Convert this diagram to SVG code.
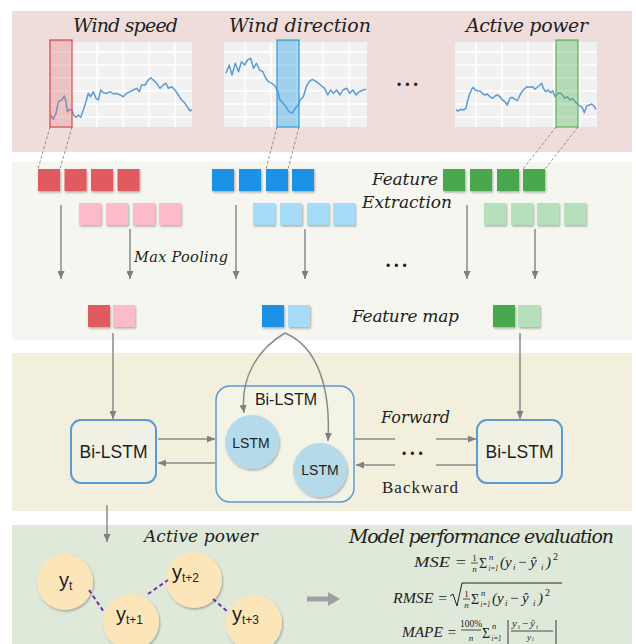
<svg xmlns="http://www.w3.org/2000/svg" width="636" height="644" viewBox="0 0 636 644">
<defs>
<style>
.ttl{font-family:"DejaVu Serif","Liberation Serif",serif;font-style:italic;fill:#1e1e1e}
.sans{font-family:"Liberation Sans",Arial,sans-serif;fill:#1e1e1e}
.m{font-family:"Liberation Serif","DejaVu Serif",serif;font-style:italic;fill:#222}
.mu{font-family:"Liberation Serif","DejaVu Serif",serif;fill:#222}
.dots{font-family:"Liberation Sans",Arial,sans-serif;font-size:12px;letter-spacing:4px;fill:#222}
.chartbg{fill:#f1f1f1}
.grid{stroke:#ffffff;stroke-width:1.5}
.series{fill:none;stroke:#5b9bd5;stroke-width:1.5;stroke-linejoin:round}
.arr{stroke:#8a8a8a;stroke-width:1.5;fill:none}
.dash{stroke:#777;stroke-width:0.8;stroke-dasharray:3,2;fill:none}
.pur{stroke:#7030a0;stroke-width:2;stroke-dasharray:4,3;fill:none}
.box{fill:#f0f1e4;stroke:#5b9bd5;stroke-width:2}
.lstm{fill:#b5daea}
.yc{fill:#fce6b9}
</style>
<filter id="sh" x="-30%" y="-30%" width="160%" height="160%">
<feDropShadow dx="1" dy="1.5" stdDeviation="1" flood-color="#000" flood-opacity="0.3"/>
</filter>
<marker id="ah" markerUnits="userSpaceOnUse" markerWidth="8" markerHeight="7" refX="8" refY="3.5" orient="auto">
<path d="M0,0 L8,3.5 L0,7 z" fill="#808080"/>
</marker>
</defs>

<!-- bands -->
<rect x="12" y="11" width="620" height="141" fill="#efdddb"/>
<rect x="12" y="162" width="620" height="178" fill="#f4f6ef"/>
<rect x="12" y="353" width="620" height="158" fill="#f2f0dc"/>
<rect x="12" y="525" width="620" height="119" fill="#dfe9d9"/>

<!-- charts -->
<g id="chart-wind-speed">
<text class="ttl" x="73" y="32" font-size="19" textLength="105">Wind speed</text>
<rect class="chartbg" x="50" y="42" width="142" height="85"/>
<g class="grid"><line x1="50" y1="52" x2="192" y2="52"/><line x1="50" y1="65" x2="192" y2="65"/><line x1="50" y1="78" x2="192" y2="78"/><line x1="50" y1="91" x2="192" y2="91"/><line x1="50" y1="104" x2="192" y2="104"/><line x1="50" y1="117" x2="192" y2="117"/><line x1="71" y1="42" x2="71" y2="127"/><line x1="97" y1="42" x2="97" y2="127"/><line x1="123" y1="42" x2="123" y2="127"/><line x1="149" y1="42" x2="149" y2="127"/><line x1="175" y1="42" x2="175" y2="127"/></g>
<polyline class="series" points="50.7,115 53.3,119.3 56,113.3 58.3,101.7 61.7,100 64.3,96 66,101.7 67.3,111.7 69.3,109.3 72,110.7 74.3,116 76,117.3 78.3,115 80.7,117.3 83.3,110 86,101.7 88.3,93.3 90.7,96.7 93.3,91.7 96,98.3 98.3,100 100.7,90 103.3,92.7 106.7,93.3 110,91.7 113.3,94 116.7,93.3 120,95 123.3,96.7 126.7,93.3 130,91.7 133.3,90 136.7,88.3 139.3,91.7 141.7,85 145,85 148.3,80 150.7,77.7 153.3,80 156.7,83.3 160,88.3 163.3,85 166,83.3 168.3,88.3 171.7,86.7 175,90 178.3,95 181.7,100 185,103.3 188.3,108.3 190,110.7 192,110"/>
<rect x="50" y="40" width="22" height="87" fill="#e06b6b" fill-opacity="0.35" stroke="#d9454a" stroke-width="1.2"/>
</g>

<g id="chart-wind-direction">
<text class="ttl" x="229" y="32" font-size="19" textLength="142">Wind direction</text>
<rect class="chartbg" x="224" y="42" width="143" height="85"/>
<g class="grid"><line x1="224" y1="52" x2="367" y2="52"/><line x1="224" y1="65" x2="367" y2="65"/><line x1="224" y1="78" x2="367" y2="78"/><line x1="224" y1="91" x2="367" y2="91"/><line x1="224" y1="104" x2="367" y2="104"/><line x1="224" y1="117" x2="367" y2="117"/><line x1="245" y1="42" x2="245" y2="127"/><line x1="271" y1="42" x2="271" y2="127"/><line x1="297" y1="42" x2="297" y2="127"/><line x1="323" y1="42" x2="323" y2="127"/><line x1="349" y1="42" x2="349" y2="127"/></g>
<polyline class="series" points="226,73.3 229.2,65 232,75 235.3,63.3 238.5,71.7 241.4,61.7 244.6,65 247.5,60 250.7,58.3 253.5,68.3 256.4,63.3 259.6,70 262.9,71.7 265.7,78.3 268.6,81.7 271.8,83.3 275,86 277.9,91.7 279.9,100 283.2,103.3 286,106.7 288.8,111.7 292.1,113.3 295.3,108.3 298.2,105 300.2,100 303.4,96.7 306.3,86.7 309.1,81.7 312.4,79.3 316.4,81.7 320.5,85 324.5,88.3 327.8,95 330.6,90 333.5,93.3 336.7,90 340,95 342.8,90 346.9,88.3 349.7,93.3 352.9,90 356.2,95 359,91.7 363.1,90 366.3,89.3"/>
<rect x="277" y="40" width="22" height="87" fill="#2aa0e8" fill-opacity="0.4" stroke="#2a9fd8" stroke-width="1.2"/>
</g>

<text class="dots" x="397" y="89">•••</text>

<g id="chart-active-power">
<text class="ttl" x="466" y="32" font-size="19" textLength="122">Active power</text>
<rect class="chartbg" x="455" y="42" width="142" height="85"/>
<g class="grid"><line x1="455" y1="52" x2="597" y2="52"/><line x1="455" y1="65" x2="597" y2="65"/><line x1="455" y1="78" x2="597" y2="78"/><line x1="455" y1="91" x2="597" y2="91"/><line x1="455" y1="104" x2="597" y2="104"/><line x1="455" y1="117" x2="597" y2="117"/><line x1="476" y1="42" x2="476" y2="127"/><line x1="502" y1="42" x2="502" y2="127"/><line x1="528" y1="42" x2="528" y2="127"/><line x1="554" y1="42" x2="554" y2="127"/><line x1="580" y1="42" x2="580" y2="127"/></g>
<polyline class="series" points="456,110 458.3,111 460.7,109.3 463.3,110 466,108.3 467.3,101.7 469.3,95 471.7,89.3 473.3,87.3 475,90 477.3,90.7 480,91 482.3,93.3 485,95 487.3,94 490,96.7 492.7,98.3 495,96 497.3,95 500,96.7 502.3,100 505,101.7 507.3,105 510,98.3 512.3,97.3 515,99.3 517.3,100.7 520,95 522.7,90.7 525,88.3 527.3,86.7 530,87.3 532.7,86.7 535,89.3 537.3,87.3 540,85 541.7,83.3 543.3,88.3 545.7,91.7 548.3,90 550.7,92.7 552.7,90.7 555,96.7 557.3,94 560,92.7 562.3,95 565,98.3 567.3,96.7 570,100 572.7,98.3 575,101.7 577.3,104 580,106 582.3,107.3 584.3,112.7 586.7,106 589.3,105 591.7,104 594,106 596,109.3"/>
<rect x="556" y="40" width="22" height="87" fill="#5cb85c" fill-opacity="0.4" stroke="#5cb25c" stroke-width="1.2"/>
</g>

<!-- feature extraction -->
<g id="red-features" filter="url(#sh)">
<rect x="38" y="169" width="22" height="22" fill="#e05a5f"/><rect x="64.5" y="169" width="22" height="22" fill="#e05a5f"/><rect x="91" y="169" width="22" height="22" fill="#e05a5f"/><rect x="117.5" y="169" width="22" height="22" fill="#e05a5f"/>
<rect x="79" y="203" width="22" height="22" fill="#fbbcc7"/><rect x="106" y="203" width="22" height="22" fill="#fbbcc7"/><rect x="133" y="203" width="22" height="22" fill="#fbbcc7"/><rect x="159" y="203" width="22" height="22" fill="#fbbcc7"/>
</g>
<g id="blue-features" filter="url(#sh)">
<rect x="212" y="169" width="22" height="22" fill="#1a92e6"/><rect x="239" y="169" width="22" height="22" fill="#1a92e6"/><rect x="266" y="169" width="22" height="22" fill="#1a92e6"/><rect x="292" y="169" width="22" height="22" fill="#1a92e6"/>
<rect x="253" y="203" width="22" height="22" fill="#a6dcf7"/><rect x="280" y="203" width="22" height="22" fill="#a6dcf7"/><rect x="307" y="203" width="22" height="22" fill="#a6dcf7"/><rect x="333" y="203" width="22" height="22" fill="#a6dcf7"/>
</g>
<g id="green-features" filter="url(#sh)">
<rect x="443" y="169" width="22" height="22" fill="#4aa84e"/><rect x="470" y="169" width="22" height="22" fill="#4aa84e"/><rect x="497" y="169" width="22" height="22" fill="#4aa84e"/><rect x="523" y="169" width="22" height="22" fill="#4aa84e"/>
<rect x="484" y="203" width="22" height="22" fill="#b6e0bb"/><rect x="511" y="203" width="22" height="22" fill="#b6e0bb"/><rect x="537" y="203" width="22" height="22" fill="#b6e0bb"/><rect x="564" y="203" width="22" height="22" fill="#b6e0bb"/>
</g>
<g id="label-feature-extraction">
<text class="ttl" x="372" y="185" font-size="17" textLength="66">Feature</text>
<text class="ttl" x="362" y="208" font-size="17" textLength="90">Extraction</text>
</g>
<text class="ttl" x="134" y="262" font-size="14.5" textLength="94">Max Pooling</text>
<text class="dots" x="386" y="270">•••</text>

<!-- feature maps -->
<g id="red-feature-map" filter="url(#sh)"><rect x="88" y="305" width="22" height="22" fill="#e05a5f"/><rect x="113" y="305" width="22" height="22" fill="#fbbcc7"/></g>
<g id="blue-feature-map" filter="url(#sh)"><rect x="262" y="305" width="22" height="22" fill="#1a92e6"/><rect x="288" y="305" width="22" height="22" fill="#a6dcf7"/></g>
<g id="green-feature-map" filter="url(#sh)"><rect x="493" y="305" width="22" height="22" fill="#4aa84e"/><rect x="518" y="305" width="22" height="22" fill="#b6e0bb"/></g>
<text class="ttl" x="352" y="322" font-size="17" textLength="107">Feature map</text>

<!-- Bi-LSTM layer -->
<g id="bilstm-left">
<rect class="box" x="71" y="420" width="85" height="63" rx="10"/>
<text class="sans" x="113.5" y="458" font-size="17.5" text-anchor="middle">Bi-LSTM</text>
</g>
<g id="bilstm-middle">
<rect x="216" y="386" width="138" height="116" rx="14" fill="#f3f3e6" stroke="#5b9bd5" stroke-width="1.5"/>
<text class="sans" x="286" y="405" font-size="16" text-anchor="middle">Bi-LSTM</text>
</g>
<g id="lstm-1">
<circle class="lstm" cx="252" cy="442" r="27" filter="url(#sh)"/>
<text class="sans" x="251" y="448" font-size="14" text-anchor="middle">LSTM</text>
</g>
<g id="lstm-2">
<circle class="lstm" cx="320" cy="470" r="27" filter="url(#sh)"/>
<text class="sans" x="320" y="475" font-size="14" text-anchor="middle">LSTM</text>
</g>
<g id="bilstm-right">
<rect class="box" x="477" y="420" width="85" height="63" rx="10"/>
<text class="sans" x="519.5" y="458" font-size="17.5" text-anchor="middle">Bi-LSTM</text>
</g>
<text class="ttl" x="381" y="423" font-size="16" textLength="69">Forward</text>
<text class="mu" x="382" y="493" font-size="17" textLength="76">Backward</text>
<text class="dots" x="402" y="458">•••</text>

<!-- output -->
<text class="ttl" x="144" y="542" font-size="17" textLength="114">Active power</text>
<g id="y-t"><circle class="yc" cx="65" cy="582" r="28" filter="url(#sh)"/><text class="sans" x="59" y="587" font-size="20">y<tspan font-size="12" dy="3">t</tspan></text></g>
<g id="y-t1"><circle class="yc" cx="131" cy="622" r="28" filter="url(#sh)"/><text class="sans" x="116" y="621" font-size="20">y<tspan font-size="12" dy="3">t+1</tspan></text></g>
<g id="y-t2"><circle class="yc" cx="194" cy="580" r="28" filter="url(#sh)"/><text class="sans" x="172" y="579" font-size="20">y<tspan font-size="12" dy="3">t+2</tspan></text></g>
<g id="y-t3"><circle class="yc" cx="254" cy="623" r="28" filter="url(#sh)"/><text class="sans" x="232" y="621" font-size="20">y<tspan font-size="12" dy="3">t+3</tspan></text></g>

<g id="evaluation">
<text class="ttl" x="349" y="543" font-size="19" textLength="265">Model performance evaluation</text>
<!-- MSE -->
<text class="m" x="414" y="567" font-size="15" textLength="53" lengthAdjust="spacingAndGlyphs">MSE =</text>
<text class="mu" x="474.5" y="561" font-size="9" text-anchor="middle">1</text>
<line x1="471" y1="563" x2="478" y2="563" stroke="#222" stroke-width="0.8"/>
<text class="m" x="474.5" y="572" font-size="9" text-anchor="middle">n</text>
<text class="mu" x="479" y="568" font-size="14">Σ</text>
<text class="m" x="489" y="560" font-size="8.5">n</text>
<text class="m" x="488.5" y="571" font-size="8.5" textLength="10" lengthAdjust="spacingAndGlyphs">i=1</text>
<text class="m" x="500" y="567" font-size="15">(y</text>
<text class="m" x="513" y="570" font-size="9">i</text>
<text class="mu" x="518" y="567" font-size="15">−</text>
<text class="m" x="530" y="567" font-size="15">ŷ</text>
<text class="m" x="541" y="570" font-size="9">i</text>
<text class="m" x="546" y="567" font-size="15">)</text>
<text class="mu" x="553" y="560" font-size="10">2</text>
<!-- RMSE -->
<text class="m" x="393" y="603" font-size="15" textLength="55" lengthAdjust="spacingAndGlyphs">RMSE =</text>
<polyline points="450,596 453,594 457,606 462,583 562,583" fill="none" stroke="#222" stroke-width="1"/>
<text class="mu" x="466.5" y="597" font-size="9" text-anchor="middle">1</text>
<line x1="463" y1="599" x2="470" y2="599" stroke="#222" stroke-width="0.8"/>
<text class="m" x="466.5" y="608" font-size="9" text-anchor="middle">n</text>
<text class="mu" x="471" y="604" font-size="14">Σ</text>
<text class="m" x="481" y="596" font-size="8.5">n</text>
<text class="m" x="480.5" y="607" font-size="8.5" textLength="10" lengthAdjust="spacingAndGlyphs">i=1</text>
<text class="m" x="492" y="603" font-size="15">(y</text>
<text class="m" x="505" y="606" font-size="9">i</text>
<text class="mu" x="510" y="603" font-size="15">−</text>
<text class="m" x="522" y="603" font-size="15">ŷ</text>
<text class="m" x="533" y="606" font-size="9">i</text>
<text class="m" x="538" y="603" font-size="15">)</text>
<text class="mu" x="545" y="596" font-size="10">2</text>
<!-- MAPE -->
<text class="m" x="402" y="637" font-size="15" textLength="55" lengthAdjust="spacingAndGlyphs">MAPE =</text>
<text class="mu" x="471" y="627" font-size="9.5" text-anchor="middle">100%</text>
<line x1="461" y1="630" x2="481" y2="630" stroke="#222" stroke-width="0.8"/>
<text class="m" x="471" y="641" font-size="9" text-anchor="middle">n</text>
<text class="mu" x="482" y="638" font-size="14">Σ</text>
<text class="m" x="492" y="629" font-size="8.5">n</text>
<text class="m" x="491.5" y="641" font-size="8.5" textLength="10" lengthAdjust="spacingAndGlyphs">i=1</text>
<line x1="508" y1="620" x2="508" y2="644" stroke="#222" stroke-width="0.9"/>
<text class="m" x="512" y="627" font-size="11">y</text>
<text class="m" x="518" y="629" font-size="7">i</text>
<text class="mu" x="522" y="627" font-size="11">−</text>
<text class="m" x="530" y="627" font-size="11">ŷ</text>
<text class="m" x="536" y="629" font-size="7">i</text>
<line x1="511" y1="631" x2="553" y2="631" stroke="#222" stroke-width="0.8"/>
<text class="m" x="527" y="640" font-size="9">y</text>
<text class="m" x="532" y="641" font-size="6">i</text>
<line x1="556" y1="620" x2="556" y2="644" stroke="#222" stroke-width="0.9"/>
</g>

<!-- connectors -->
<g id="connectors">
<line class="dash" x1="50" y1="127" x2="38" y2="169"/>
<line class="dash" x1="72" y1="127" x2="60" y2="169"/>
<line class="dash" x1="277" y1="127" x2="266" y2="169"/>
<line class="dash" x1="299" y1="127" x2="288" y2="169"/>
<line class="dash" x1="556" y1="127" x2="523" y2="169"/>
<line class="dash" x1="578" y1="127" x2="545" y2="169"/>

<line class="arr" x1="61" y1="205" x2="61" y2="279" marker-end="url(#ah)"/>
<line class="arr" x1="130" y1="229" x2="130" y2="279" marker-end="url(#ah)"/>
<line class="arr" x1="236" y1="205" x2="236" y2="279" marker-end="url(#ah)"/>
<line class="arr" x1="305" y1="229" x2="305" y2="279" marker-end="url(#ah)"/>
<line class="arr" x1="467" y1="205" x2="467" y2="279" marker-end="url(#ah)"/>
<line class="arr" x1="535" y1="229" x2="535" y2="279" marker-end="url(#ah)"/>

<line class="arr" x1="113" y1="333" x2="113" y2="419" marker-end="url(#ah)"/>
<line class="arr" x1="520" y1="333" x2="520" y2="419" marker-end="url(#ah)"/>
<path class="arr" d="M285,333 C256,350 240,380 244,413" marker-end="url(#ah)"/>
<path class="arr" d="M285,333 C316,346 331,385 328,441" marker-end="url(#ah)"/>

<line class="arr" x1="158" y1="439" x2="215" y2="439" stroke-width="2" marker-end="url(#ah)"/>
<line class="arr" x1="215" y1="463" x2="158" y2="463" stroke-width="2" marker-end="url(#ah)"/>
<line class="arr" x1="355" y1="439" x2="395" y2="439" stroke-width="2"/>
<line class="arr" x1="436" y1="439" x2="476" y2="439" stroke-width="2" marker-end="url(#ah)"/>
<line class="arr" x1="476" y1="465" x2="436" y2="465" stroke-width="2"/>
<line class="arr" x1="395" y1="465" x2="356" y2="465" stroke-width="2" marker-end="url(#ah)"/>

<line class="arr" x1="107" y1="505" x2="107" y2="542" marker-end="url(#ah)"/>

<line class="pur" x1="89" y1="590" x2="104" y2="612"/>
<line class="pur" x1="148" y1="594" x2="168" y2="580"/>
<line class="pur" x1="213" y1="599" x2="228" y2="612"/>

<line x1="307" y1="599" x2="330" y2="599" stroke="#a0a0a0" stroke-width="5"/>
<polygon points="328,592 340,599 328,606" fill="#a0a0a0"/>
</g>
</svg>
